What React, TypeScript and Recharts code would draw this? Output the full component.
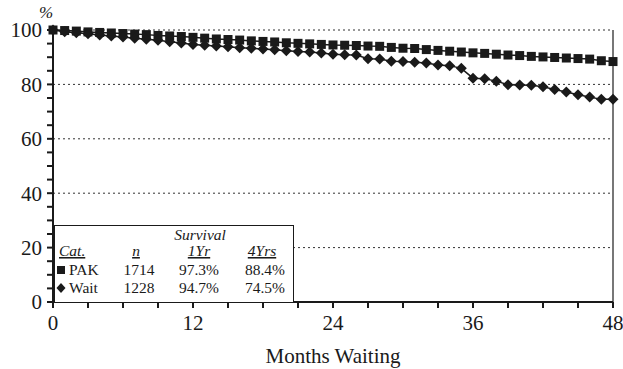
import { LineChart, Line, XAxis, YAxis, ReferenceLine } from 'recharts';

const months = [
    0, 1, 2, 3, 4, 5, 6, 7, 8, 9, 10, 11, 12, 13, 14, 15, 16, 17, 18, 19, 20, 21, 22, 23, 24,
    25, 26, 27, 28, 29, 30, 31, 32, 33, 34, 35, 36, 37, 38, 39, 40, 41, 42, 43, 44, 45, 46, 47, 48,
];

const pakSurvival = [
    100, 99.8, 99.6, 99.3, 99.1, 98.9, 98.7, 98.5, 98.3, 98.0, 97.8, 97.6, 97.3, 97.0, 96.7, 96.5,
    96.3, 96.0, 95.8, 95.6, 95.3, 95.1, 94.9, 94.7, 94.5, 94.4, 94.3, 94.1, 94.0, 93.6, 93.3, 93.2,
    92.8, 92.5, 92.2, 91.9, 91.6, 91.4, 91.1, 90.8, 90.6, 90.3, 90.1, 89.9, 89.7, 89.5, 89.3, 88.7, 88.4,
];

const waitSurvival = [
    100, 99.4, 99.0, 98.6, 98.2, 97.8, 97.4, 97.0, 96.6, 96.2, 95.7, 95.2, 94.7, 94.4, 94.1, 93.8,
    93.5, 93.3, 93.0, 92.7, 92.4, 92.1, 91.9, 91.5, 91.1, 90.9, 90.8, 89.4, 89.3, 88.5, 88.4, 88.1,
    87.9, 87.1, 86.9, 85.9, 82.3, 82.1, 81.2, 79.9, 79.8, 79.7, 79.1, 78.1, 77.2, 76.2, 75.4, 74.5, 74.5,
];

const xTicks = [0, 3, 6, 9, 12, 15, 18, 21, 24, 27, 30, 33, 36, 39, 42, 45, 48];
const yTicks = [0, 5, 10, 15, 20, 25, 30, 35, 40, 45, 50, 55, 60, 65, 70, 75, 80, 85, 90, 95, 100];
const gridLevels = [20, 40, 60, 80, 100];

// summary table: category, n, 1-year and 4-year survival
const tableRows = [
    { cat: 'PAK', n: '1714', yr1: '97.3%', yr4: '88.4%', marker: 'square' },
    { cat: 'Wait', n: '1228', yr1: '94.7%', yr4: '74.5%', marker: 'diamond' },
];

const data = months.map((m, i) => ({ month: m, pak: pakSurvival[i], wait: waitSurvival[i] }));

const INK = '#1a1a1a';
const FONT = '"Liberation Serif", "Times New Roman", serif';

const SquareDot = (props: any) => {
    const { cx, cy, index } = props;
    if (cx == null || cy == null) return null;
    return <rect key={`sq-${index}`} x={cx - 4.5} y={cy - 4.5} width={9} height={9} fill={INK} />;
};

const DiamondDot = (props: any) => {
    const { cx, cy, index } = props;
    if (cx == null || cy == null) return null;
    const r = 5.5;
    return (
        <path
            key={`dm-${index}`}
            d={`M${cx},${cy - r} L${cx + r},${cy} L${cx},${cy + r} L${cx - r},${cy} Z`}
            fill={INK}
        />
    );
};

export default function App() {
    return (
        <div style={{ position: 'absolute', left: 0, top: 0, width: 623, height: 369, background: '#fff', fontFamily: FONT }}>
            <LineChart
                width={623}
                height={369}
                data={data}
                margin={{ top: 30, right: 10, left: 0, bottom: 0 }}
            >
                {gridLevels.map((v) => (
                    <ReferenceLine key={v} y={v} stroke="#333" strokeDasharray="2 3" strokeWidth={1} />
                ))}
                <ReferenceLine x={48} stroke="#777" strokeWidth={2} />
                <XAxis
                    dataKey="month"
                    type="number"
                    domain={[0, 48]}
                    ticks={xTicks}
                    interval={0}
                    tickSize={6}
                    tickFormatter={(v: number) => (v % 12 === 0 ? String(v) : '')}
                    axisLine={{ stroke: INK, strokeWidth: 2 }}
                    tickLine={{ stroke: INK, strokeWidth: 2 }}
                    tick={{ fill: INK, fontSize: 21, fontFamily: FONT, dy: 5 }}
                    height={67}
                    label={{ value: 'Months Waiting', position: 'insideBottom', offset: 6, fill: INK, fontSize: 21, fontFamily: FONT }}
                />
                <YAxis
                    type="number"
                    domain={[0, 100]}
                    ticks={yTicks}
                    interval={0}
                    tickSize={6}
                    tickFormatter={(v: number) => (v % 20 === 0 ? String(v) : '')}
                    axisLine={{ stroke: INK, strokeWidth: 2 }}
                    tickLine={{ stroke: INK, strokeWidth: 2 }}
                    tick={{ fill: INK, fontSize: 21, fontFamily: FONT, dx: -3 }}
                    width={53}
                />
                <Line
                    dataKey="pak"
                    stroke={INK}
                    strokeWidth={1.5}
                    dot={SquareDot}
                    activeDot={false}
                    isAnimationActive={false}
                />
                <Line
                    dataKey="wait"
                    stroke={INK}
                    strokeWidth={1.5}
                    dot={DiamondDot}
                    activeDot={false}
                    isAnimationActive={false}
                />
            </LineChart>

            <div style={{ position: 'absolute', left: 39, top: 3, fontSize: 17, fontStyle: 'italic', color: INK }}>%</div>

            <svg
                width={240}
                height={78}
                style={{ position: 'absolute', left: 54, top: 225 }}
            >
                <rect x={0.5} y={0.5} width={239} height={77} fill="#fff" stroke={INK} strokeWidth={1} />
                <g fontFamily={FONT} fontSize={15.5} fill={INK}>
                    <text x={146} y={15} textAnchor="middle" fontStyle="italic">Survival</text>
                    <text x={5} y={31} fontStyle="italic" textDecoration="underline">Cat.</text>
                    <text x={82} y={31} textAnchor="middle" fontStyle="italic" textDecoration="underline">n</text>
                    <text x={145} y={31} textAnchor="middle" fontStyle="italic" textDecoration="underline">1Yr</text>
                    <text x={208} y={31} textAnchor="middle" fontStyle="italic" textDecoration="underline">4Yrs</text>
                    {tableRows.map((r, i) => {
                        const y = 50 + i * 18;
                        return (
                            <g key={r.cat}>
                                {r.marker === 'square' ? (
                                    <rect x={3} y={y - 9} width={8} height={8} fill={INK} />
                                ) : (
                                    <path d={`M7,${y - 10} L11.5,${y - 5} L7,${y} L2.5,${y - 5} Z`} fill={INK} />
                                )}
                                <text x={15} y={y}>{r.cat}</text>
                                <text x={85} y={y} textAnchor="middle">{r.n}</text>
                                <text x={145} y={y} textAnchor="middle">{r.yr1}</text>
                                <text x={211} y={y} textAnchor="middle">{r.yr4}</text>
                            </g>
                        );
                    })}
                </g>
            </svg>
        </div>
    );
}
